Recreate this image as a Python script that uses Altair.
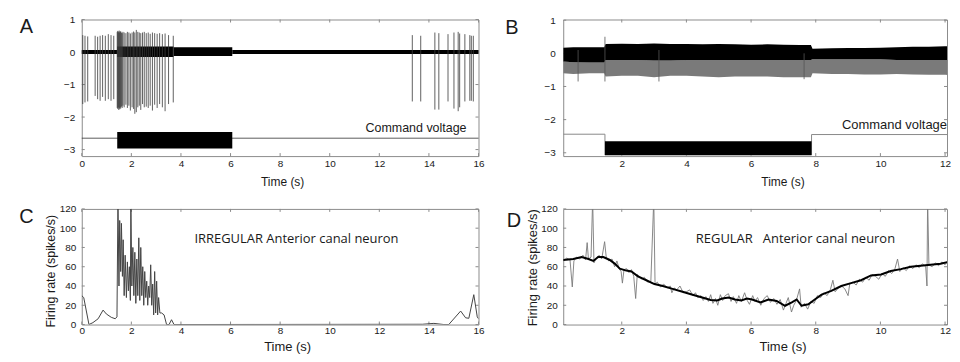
import altair as alt
import pandas as pd

LABEL_FONT = "Liberation Sans"
HUMAN_FONT = "Open Sans"
FRAME = "#8c8c8c"
INK = "#1a1a1a"
TICK = 3

# ---------------- Panel A : irregular neuron voltage trace ----------------
A_XTICKS = [0, 2, 4, 6, 8, 10, 12, 14, 16]
A_YTICKS = [-3, -2, -1, 0, 1]
A_BAND_T0 = [0.0, 1.43, 3.70, 6.07]
A_BAND_T1 = [1.43, 3.70, 6.07, 16.0]
A_BAND_HI = [0.06, 0.17, 0.15, 0.06]
A_BAND_LO = [-0.06, -0.15, -0.12, -0.06]
A_SPIKE_T = [0.04, 0.13, 0.24, 0.54, 0.64, 0.74, 0.84, 0.95, 1.07, 1.18, 1.29,
             1.43, 1.45, 1.47, 1.49, 1.51, 1.53, 1.55, 1.57, 1.60, 1.63, 1.66,
             1.71, 1.78, 1.84, 1.90, 1.96, 2.03, 2.09, 2.14, 2.20, 2.26,
             2.32, 2.38, 2.45, 2.52, 2.60, 2.68, 2.76, 2.85, 2.94, 3.04,
             3.14, 3.25, 3.36, 3.50, 3.69,
             13.33, 13.67, 14.24, 14.40, 14.77, 15.01, 15.18, 15.24, 15.45, 15.65, 15.71, 15.79]
A_SPIKE_TOP = [0.52, 0.50, 0.48, 0.50, 0.47, 0.50, 0.52, 0.50, 0.55, 0.52, 0.50,
               0.62, 0.65, 0.60, 0.63, 0.66, 0.60, 0.62, 0.64, 0.60, 0.58, 0.62,
               0.60, 0.58, 0.62, 0.60, 0.57, 0.60, 0.63, 0.60, 0.68, 0.62,
               0.60, 0.58, 0.60, 0.62, 0.58, 0.60, 0.56, 0.60, 0.58, 0.56,
               0.58, 0.55, 0.57, 0.52, 0.50,
               0.52, 0.50, 0.60, 0.58, 0.55, 0.60, 0.62, 0.57, 0.55, 0.52, 0.50, 0.50]
A_SPIKE_BOT = [-1.60, -1.55, -1.52, -1.35, -1.45, -1.50, -1.38, -1.50, -1.45, -1.50, -1.45,
               -1.72, -1.75, -1.70, -1.78, -1.72, -1.76, -1.70, -1.74, -1.68, -1.72, -1.65,
               -1.70, -1.62, -1.72, -1.65, -1.80, -1.70, -1.75, -1.90, -1.85, -1.70,
               -1.65, -1.78, -1.60, -1.70, -1.68, -1.72, -1.65, -1.80, -1.62, -1.72,
               -1.60, -1.70, -1.82, -1.60, -1.55,
               -1.52, -1.52, -1.77, -1.77, -1.52, -1.74, -1.82, -1.70, -1.52, -1.50, -1.50, -1.52]
A_CMD_T = [0.0, 16.0]
A_CMD_V = [-2.65, -2.65]
A_BLOCK_T = [1.43, 6.07]
A_BLOCK_V = [-2.46, -2.97]

# ---------------- Panel B : regular neuron voltage trace ----------------
B_XTICKS = [2, 4, 6, 8, 10, 12]
B_YTICKS = [-3, -2, -1, 0, 1]
B_T = [0.19, 0.5, 1.0, 1.46, 1.5, 2.0, 2.5, 3.0, 3.5, 4.0, 4.5, 5.0, 5.5, 6.0,
       6.5, 7.0, 7.5, 7.85, 7.9, 8.5, 9.0, 9.5, 10.0, 10.5, 11.0, 11.5, 12.0, 12.28]
B_CORE_HI = [0.17, 0.18, 0.18, 0.18, 0.28, 0.29, 0.28, 0.30, 0.28, 0.28, 0.27, 0.28, 0.27, 0.26,
             0.27, 0.26, 0.25, 0.25, 0.14, 0.15, 0.16, 0.16, 0.17, 0.18, 0.20, 0.20, 0.21, 0.22]
B_CORE_LO = [-0.25, -0.27, -0.28, -0.28, -0.20, -0.20, -0.20, -0.22, -0.22, -0.20, -0.20, -0.20, -0.20, -0.20,
             -0.20, -0.20, -0.20, -0.20, -0.18, -0.18, -0.18, -0.18, -0.18, -0.20, -0.20, -0.20, -0.20, -0.20]
B_SPIKE_LO = [-0.60, -0.62, -0.60, -0.60, -0.70, -0.68, -0.68, -0.72, -0.68, -0.68, -0.70, -0.72, -0.70, -0.70,
              -0.70, -0.72, -0.72, -0.72, -0.60, -0.62, -0.62, -0.64, -0.64, -0.62, -0.64, -0.65, -0.65, -0.66]
B_DEEP_T = [0.65, 1.48, 3.15, 7.64]
B_DEEP_TOP = [0.10, 0.50, 0.10, 0.00]
B_DEEP_BOT = [-0.85, -0.85, -0.85, -0.78]
B_CMD_T = [0.19, 1.48, 1.48, 7.87, 7.87, 12.28]
B_CMD_V = [-2.44, -2.44, -3.07, -3.07, -2.45, -2.45]
B_BLOCK_T = [1.48, 7.87]
B_BLOCK_V = [-2.65, -3.07]

# ---------------- Panel C : irregular neuron firing rate ----------------
C_XTICKS = [0, 2, 4, 6, 8, 10, 12, 14, 16]
C_YTICKS = [0, 20, 40, 60, 80, 100, 120]
C_T = [0.0, 0.08, 0.29, 0.45, 0.66, 0.86, 0.99, 1.19, 1.35, 1.42, 1.46, 1.50, 1.53, 1.57,
       1.60, 1.64, 1.67, 1.71, 1.75, 1.80, 1.84, 1.88, 1.92, 1.96, 1.98, 2.02, 2.06, 2.10,
       2.14, 2.18, 2.22, 2.26, 2.30, 2.34, 2.38, 2.42, 2.46, 2.50, 2.54, 2.58, 2.62, 2.66,
       2.70, 2.74, 2.78, 2.82, 2.86, 2.90, 2.94, 2.98, 3.02, 3.06, 3.10, 3.15, 3.22, 3.32,
       3.42, 3.52, 3.62, 3.72, 13.74, 14.2, 14.6, 14.8, 15.28, 15.48, 15.61, 15.81, 15.95, 16.0]
C_V = [30, 28, 0, 2, 6, 15, 11, 7.5, 6, 8, 130, 40, 108, 55,
       105, 50, 88, 30, 72, 28, 65, 35, 60, 25, 130, 40, 80, 30,
       75, 22, 68, 30, 90, 25, 80, 30, 60, 20, 55, 28, 45, 20,
       40, 28, 62, 20, 42, 10, 55, 12, 45, 10, 28, 12, 12, 10,
       0, 0, 5, 0, 0.3, 1.2, 0, 0, 14, 7, 6.5, 31, 8, 6]

# ---------------- Panel D : regular neuron firing rate ----------------
D_XTICKS = [2, 4, 6, 8, 10, 12]
D_YTICKS = [0, 20, 40, 60, 80, 100, 120]
D_SMOOTH_T = [0.19, 0.5, 0.76, 0.97, 1.12, 1.27, 1.43, 1.63, 1.79, 1.94,
              2.14, 2.30, 2.50, 2.76, 3.01, 3.27, 3.57, 3.88, 4.19, 4.49,
              4.75, 4.95, 5.11, 5.31, 5.5, 5.7, 5.87, 6.03, 6.29, 6.54,
              6.79, 7.05, 7.26, 7.41, 7.56, 7.77, 7.97, 8.18, 8.48, 8.79,
              9.09, 9.40, 9.71, 10.02, 10.32, 10.63, 10.94, 11.24, 11.55, 11.86,
              12.16, 12.28]
D_SMOOTH_V = [67, 68, 70, 68, 66, 70, 70, 67, 63, 58,
              56, 55, 50, 46, 42, 40, 37, 34, 31, 28,
              25.5, 25, 27, 28, 26, 25, 27, 26, 23, 26,
              24.5, 19.5, 23, 26, 19.5, 21, 26, 31, 35, 40,
              43, 46, 51, 52, 55.5, 57.5, 60, 61, 62, 63,
              65.5, 66]
D_RAW = [(0.19, 66), (0.3, 69), (0.4, 67), (0.47, 39), (0.52, 66), (0.6, 70), (0.7, 68), (0.8, 72),
         (0.88, 67), (0.93, 85), (0.97, 68), (1.05, 70), (1.1, 130), (1.14, 64), (1.2, 68), (1.3, 72),
         (1.38, 68), (1.47, 86), (1.52, 70), (1.6, 66), (1.7, 68), (1.78, 60), (1.85, 66), (1.92, 58),
         (1.98, 55), (2.02, 43), (2.07, 57), (2.15, 58), (2.22, 54), (2.3, 57), (2.37, 50), (2.43, 27),
         (2.48, 52), (2.55, 50), (2.62, 47), (2.7, 49), (2.8, 44), (2.9, 45), (2.99, 130), (3.03, 42),
         (3.1, 44), (3.2, 39), (3.3, 42), (3.4, 38), (3.5, 40), (3.55, 33), (3.62, 38), (3.7, 36),
         (3.8, 40), (3.9, 33), (4.0, 34), (4.1, 36), (4.2, 30), (4.28, 33), (4.35, 28), (4.45, 30),
         (4.52, 25), (4.6, 29), (4.68, 24), (4.75, 31), (4.82, 22), (4.9, 27), (4.97, 20), (5.05, 31),
         (5.12, 25), (5.2, 30), (5.3, 32), (5.38, 24), (5.45, 29), (5.55, 22), (5.62, 30), (5.7, 24),
         (5.8, 33), (5.88, 25), (5.95, 21), (6.05, 30), (6.12, 24), (6.2, 28), (6.3, 20), (6.4, 27),
         (6.5, 30), (6.6, 23), (6.7, 27), (6.8, 21), (6.9, 26), (7.0, 15), (7.08, 22), (7.15, 28),
         (7.25, 13), (7.32, 20), (7.4, 25), (7.5, 37), (7.55, 18), (7.65, 22), (7.75, 16), (7.85, 24),
         (7.95, 22), (8.05, 30), (8.15, 28), (8.25, 33), (8.35, 30), (8.45, 36), (8.53, 46), (8.6, 34),
         (8.7, 38), (8.8, 40), (8.9, 37), (9.0, 30), (9.05, 42), (9.15, 44), (9.25, 41), (9.35, 47),
         (9.45, 44), (9.55, 49), (9.65, 46), (9.75, 52), (9.85, 50), (9.95, 47), (10.05, 53), (10.15, 50),
         (10.25, 56), (10.35, 53), (10.45, 58), (10.53, 68), (10.6, 55), (10.7, 59), (10.8, 56), (10.9, 61),
         (11.0, 58), (11.1, 62), (11.2, 59), (11.3, 63), (11.4, 60), (11.44, 40), (11.46, 130), (11.5, 62),
         (11.6, 60), (11.7, 64), (11.8, 61), (11.9, 65), (12.0, 62), (12.1, 67), (12.2, 64), (12.28, 66)]

# ---------------- geometry ----------------
WA, HA = 398, 137
WB, HB = 385, 137
WC, HC = 398, 116
WD, HD = 385, 116
A_XDOM, A_YDOM = [0, 16], [-3.2, 1.0]
B_XDOM, B_YDOM = [0.19, 12.06], [-3.1, 1.02]
C_XDOM, C_YDOM = [0, 16], [0, 120]
D_XDOM, D_YDOM = [0.19, 12.06], [0, 120]


def sc(d):
    return alt.Scale(domain=d, nice=False, zero=False)


def x_axis(values, title, tx, ty, tfont, tsize, pad):
    return alt.Axis(values=values, ticks=False, domain=False, grid=False,
                    labelFlush=False, labelOverlap=False, labelFont=LABEL_FONT,
                    labelFontSize=10, labelColor=INK, labelPadding=pad,
                    title=title, titleX=tx, titleY=ty, titleBaseline="middle",
                    titleAlign="center", titleFont=tfont, titleFontSize=tsize,
                    titleFontWeight="normal", titleColor=INK)


def y_axis(values, pad, title="", tx=0, ty=0, tsize=12):
    kw = dict(values=values, ticks=False, domain=False, grid=False,
              labelFont=LABEL_FONT, labelFontSize=10, labelColor=INK,
              labelPadding=pad, labelFlush=False, title=title)
    if title:
        kw.update(titleX=tx, titleY=ty, titleAngle=-90, titleBaseline="middle",
                  titleAlign="center", titleFont=LABEL_FONT, titleFontSize=tsize,
                  titleFontWeight="normal", titleColor=INK)
    return alt.Axis(**kw)


class Panel:
    """Shared scales and axis specs so every layer merges into one axis."""

    def __init__(self, xdom, ydom, xax, yax):
        self.xs, self.ys = sc(xdom), sc(ydom)
        self.xax, self.yax = xax, yax

    def X(self, f):
        return alt.X(f, scale=self.xs, axis=self.xax)

    def Y(self, f):
        return alt.Y(f, scale=self.ys, axis=self.yax)


def frame(P, xticks, yticks, w, h):
    dx = pd.DataFrame({"t": xticks})
    dy = pd.DataFrame({"v": yticks})
    rule = dict(color=FRAME, strokeWidth=1)
    bottom = alt.Chart(dx).mark_rule(**rule).encode(x=P.X("t:Q"), y=alt.value(h), y2=alt.value(h - TICK))
    top = alt.Chart(dx).mark_rule(**rule).encode(x=P.X("t:Q"), y=alt.value(0), y2=alt.value(TICK))
    left = alt.Chart(dy).mark_rule(**rule).encode(y=P.Y("v:Q"), x=alt.value(0), x2=alt.value(TICK))
    right = alt.Chart(dy).mark_rule(**rule).encode(y=P.Y("v:Q"), x=alt.value(w), x2=alt.value(w - TICK))
    return [bottom, left, top, right]


def text_layer(s, x, y, size, font, align="center"):
    return alt.Chart(pd.DataFrame({"s": [s]})).mark_text(
        font=font, fontSize=size, align=align, baseline="middle", color=INK
    ).encode(text="s:N", x=alt.value(x), y=alt.value(y))


# ---------------- Panel A ----------------
PA = Panel(A_XDOM, A_YDOM,
           x_axis(A_XTICKS, "Time (s)", 201, 26, LABEL_FONT, 12, 2), y_axis(A_YTICKS, 7))
a_band = alt.Chart(pd.DataFrame({"t0": A_BAND_T0, "t1": A_BAND_T1, "hi": A_BAND_HI, "lo": A_BAND_LO})
                   ).mark_rect(color="black").encode(x=PA.X("t0:Q"), x2="t1:Q", y=PA.Y("hi:Q"), y2="lo:Q")
a_spk = alt.Chart(pd.DataFrame({"t": A_SPIKE_T, "top": A_SPIKE_TOP, "bot": A_SPIKE_BOT})
                  ).mark_rule(color="#3a3a3a", strokeWidth=0.8).encode(x=PA.X("t:Q"), y=PA.Y("top:Q"), y2="bot:Q")
a_cmd = alt.Chart(pd.DataFrame({"t": A_CMD_T, "v": A_CMD_V})).mark_line(
    color="#333", strokeWidth=0.8).encode(x=PA.X("t:Q"), y=PA.Y("v:Q"))
a_blk = alt.Chart(pd.DataFrame({"t0": [A_BLOCK_T[0]], "t1": [A_BLOCK_T[1]],
                                "v0": [A_BLOCK_V[0]], "v1": [A_BLOCK_V[1]]})).mark_rect(color="black").encode(
    x=PA.X("t0:Q"), x2="t1:Q", y=PA.Y("v0:Q"), y2="v1:Q")
pA = alt.layer(
    *frame(PA, A_XTICKS, A_YTICKS, WA, HA),
    a_band, a_spk, a_cmd, a_blk,
    text_layer("Command voltage", 386, 109, 12.5, LABEL_FONT, "right"),
    text_layer("A", -55.5, 8, 20, LABEL_FONT),
).properties(width=WA, height=HA)

# ---------------- Panel B ----------------
PB = Panel(B_XDOM, B_YDOM,
           x_axis(B_XTICKS, "Time (s)", 220, 26, LABEL_FONT, 12, 2), y_axis(B_YTICKS, 8))
dfB = pd.DataFrame({"t": B_T, "hi": B_CORE_HI, "lo": B_CORE_LO, "sl": B_SPIKE_LO})
b_gray = alt.Chart(dfB).mark_area(color="#7a7a7a", clip=True).encode(x=PB.X("t:Q"), y=PB.Y("sl:Q"), y2="lo:Q")
b_core = alt.Chart(dfB).mark_area(color="black", clip=True).encode(x=PB.X("t:Q"), y=PB.Y("hi:Q"), y2="lo:Q")
b_deep = alt.Chart(pd.DataFrame({"t": B_DEEP_T, "top": B_DEEP_TOP, "bot": B_DEEP_BOT})
                   ).mark_rule(color="#555", strokeWidth=0.8).encode(x=PB.X("t:Q"), y=PB.Y("top:Q"), y2="bot:Q")
b_cmd = alt.Chart(pd.DataFrame({"t": B_CMD_T, "v": B_CMD_V, "i": list(range(len(B_CMD_T)))})
                  ).mark_line(color="#8a8a8a", strokeWidth=1, clip=True).encode(
    x=PB.X("t:Q"), y=PB.Y("v:Q"), order="i:Q")
b_blk = alt.Chart(pd.DataFrame({"t0": [B_BLOCK_T[0]], "t1": [B_BLOCK_T[1]],
                                "v0": [B_BLOCK_V[0]], "v1": [B_BLOCK_V[1]]})).mark_rect(color="black").encode(
    x=PB.X("t0:Q"), x2="t1:Q", y=PB.Y("v0:Q"), y2="v1:Q")
pB = alt.layer(
    *frame(PB, B_XTICKS, B_YTICKS, WB, HB),
    b_gray, b_core, b_deep, b_cmd, b_blk,
    text_layer("Command voltage", 385, 106, 13, LABEL_FONT, "right"),
    text_layer("B", -51.5, 8.5, 20, LABEL_FONT),
).properties(width=WB, height=HB)

# ---------------- Panel C ----------------
PC = Panel(C_XDOM, C_YDOM,
           x_axis(C_XTICKS, "Time (s)", 206, 22.5, LABEL_FONT, 13, 1),
           y_axis(C_YTICKS, 6, "Firing rate (spikes/s)", -31, 62, 12.5))
c_line = alt.Chart(pd.DataFrame({"t": C_T, "v": C_V})).mark_line(
    color="#444", strokeWidth=1, clip=True).encode(x=PC.X("t:Q"), y=PC.Y("v:Q"))
pC = alt.layer(
    *frame(PC, C_XTICKS, C_YTICKS, WC, HC),
    c_line,
    text_layer("IRREGULAR Anterior canal neuron", 113, 30, 13, HUMAN_FONT, "left"),
    text_layer("C", -55.5, 8, 20, LABEL_FONT),
).properties(width=WC, height=HC)

# ---------------- Panel D ----------------
PD = Panel(D_XDOM, D_YDOM,
           x_axis(D_XTICKS, "Time (s)", 220, 22.5, LABEL_FONT, 13, 1),
           y_axis(D_YTICKS, 6, "Firing rate (spikes/s)", -31, 58.5, 13))
d_raw = alt.Chart(pd.DataFrame({"t": [p[0] for p in D_RAW], "v": [p[1] for p in D_RAW]})).mark_line(
    color="#7a7a7a", strokeWidth=0.9, clip=True).encode(x=PD.X("t:Q"), y=PD.Y("v:Q"))
d_smooth = alt.Chart(pd.DataFrame({"t": D_SMOOTH_T, "v": D_SMOOTH_V})).mark_line(
    color="black", strokeWidth=2, clip=True).encode(x=PD.X("t:Q"), y=PD.Y("v:Q"))
pD = alt.layer(
    *frame(PD, D_XTICKS, D_YTICKS, WD, HD),
    d_raw, d_smooth,
    text_layer("REGULAR\u00a0\u00a0\u00a0Anterior canal neuron", 133, 30, 13, HUMAN_FONT, "left"),
    text_layer("D", -49.5, 12, 20, LABEL_FONT),
).properties(width=WD, height=HD)

chart = alt.concat(
    pA, pB, pC, pD, columns=2, spacing={"row": 53, "column": 85},
    bounds="flush", align="none"
).configure_view(stroke=FRAME, strokeWidth=1).properties(
    padding={"left": 10, "top": 5, "right": 0, "bottom": 0}
)

chart.save("out.html", embed_options={"renderer": "svg", "actions": False})
